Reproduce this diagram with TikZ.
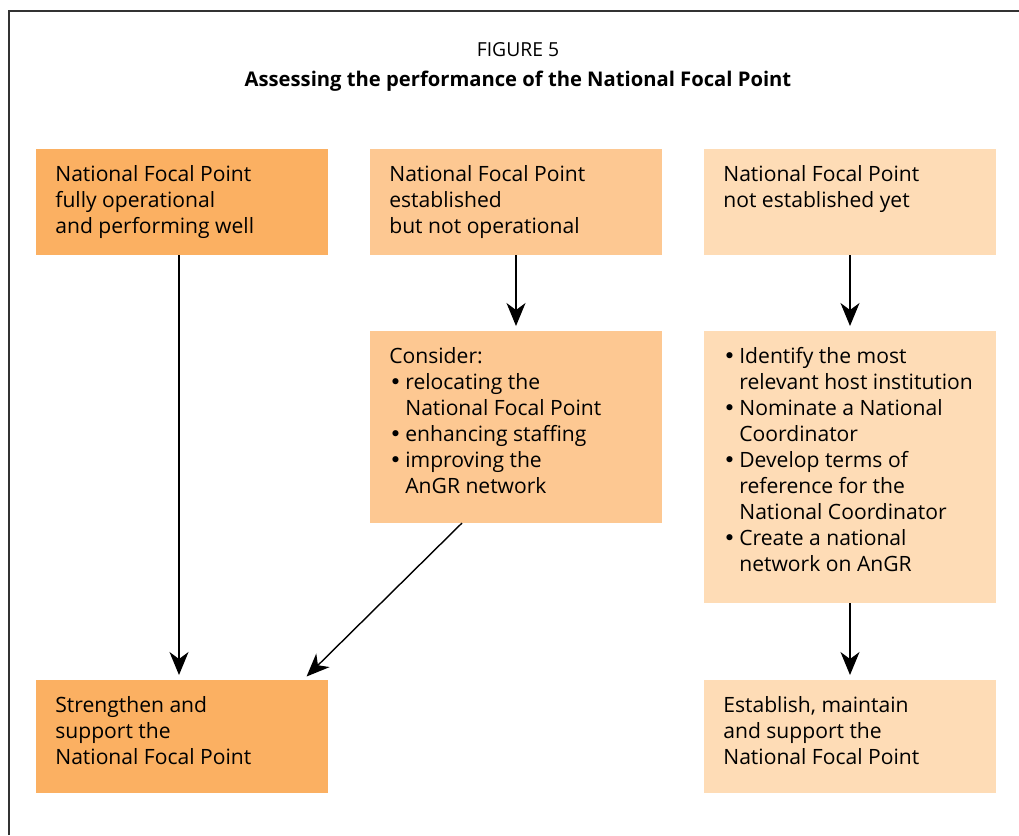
\documentclass[tikz,border=0pt]{standalone}
\usepackage{fontspec}
\setmainfont{Open Sans}
\newfontfamily\bulfont{DejaVu Sans}
\usetikzlibrary{arrows.meta, calc}
\definecolor{fpdark}{HTML}{FBB062}
\definecolor{fpmid}{HTML}{FDC892}
\definecolor{fplight}{HTML}{FEDCB6}
\tikzstyle{box} = [rectangle, minimum width=58.4mm, anchor=north west, inner sep=0, outer sep=0]
\tikzstyle{txt} = [anchor=north west, inner sep=0, align=left, font=\fontsize{12}{14.8}\selectfont]
\tikzstyle{arrow} = [line width=0.8pt, -{Stealth[length=4.6mm,width=3.8mm,inset=1.4mm]}, shorten >=1mm]
\newcommand{\bul}{\makebox[3.2mm][l]{\bulfont •}}
\newcommand{\ind}{\hspace*{3.2mm}}

\begin{document}
\begin{tikzpicture}[x=0.2mm,y=-0.2mm]
\useasboundingbox (0,0) rectangle (1019,835);
\draw[line width=1pt,black!80] (9,835)--(9,11)--(1019,11);

\node[font=\fontsize{11}{14}\selectfont] (fig) at (518,50) {FIGURE 5};
\node[font=\fontsize{11.5}{14}\selectfont\bfseries] (title) at (518,81) {Assessing the performance of the National Focal Point};

% top row
\node[box,fill=fpdark,minimum height=21.2mm] (opA) at (36,149) {};
\node[box,fill=fpmid,minimum height=21.2mm] (opB) at (370,149) {};
\node[box,fill=fplight,minimum height=21.2mm] (opC) at (704,149) {};
\node[txt] (opAtxt) at (55,165) {National Focal Point\\fully operational\\and performing well};
\node[txt] (opBtxt) at (389,165) {National Focal Point\\established\\but not operational};
\node[txt] (opCtxt) at (723,165) {National Focal Point\\not established yet};

% middle row
\node[box,fill=fpmid,minimum height=38.4mm] (cD) at (370,331) {};
\node[box,fill=fplight,minimum height=54.4mm] (cE) at (704,331) {};
\node[txt] (cDtxt) at (389,347) {Consider:\\\bul relocating the\\\ind National Focal Point\\\bul enhancing staffing\\\bul improving the\\\ind AnGR network};
\node[txt] (cEtxt) at (723,347) {\bul Identify the most\\\ind relevant host institution\\\bul Nominate a National\\\ind Coordinator\\\bul Develop terms of\\\ind reference for the\\\ind National Coordinator\\\bul Create a national\\\ind network on AnGR};

% bottom row
\node[box,fill=fpdark,minimum height=22.6mm] (opF) at (36,680) {};
\node[box,fill=fplight,minimum height=22.6mm] (cG) at (704,680) {};
\node[txt] (opFtxt) at (55,696) {Strengthen and\\support the\\National Focal Point};
\node[txt] (cGtxt) at (723,696) {Establish, maintain\\and support the\\National Focal Point};

\draw[arrow] ($(opA.south)+(-3,0)$)--($(opF.north)+(-3,0)$);
\draw[arrow] (opB.south)--(cD.north);
\draw[arrow] (opC.south)--(cE.north);
\draw[arrow] (cE.south)--(cG.north);
\draw[arrow] ($(cD.south)+(-54,0)$)--($(opF.north east)+(-25,0)$);
\end{tikzpicture}
\end{document}
